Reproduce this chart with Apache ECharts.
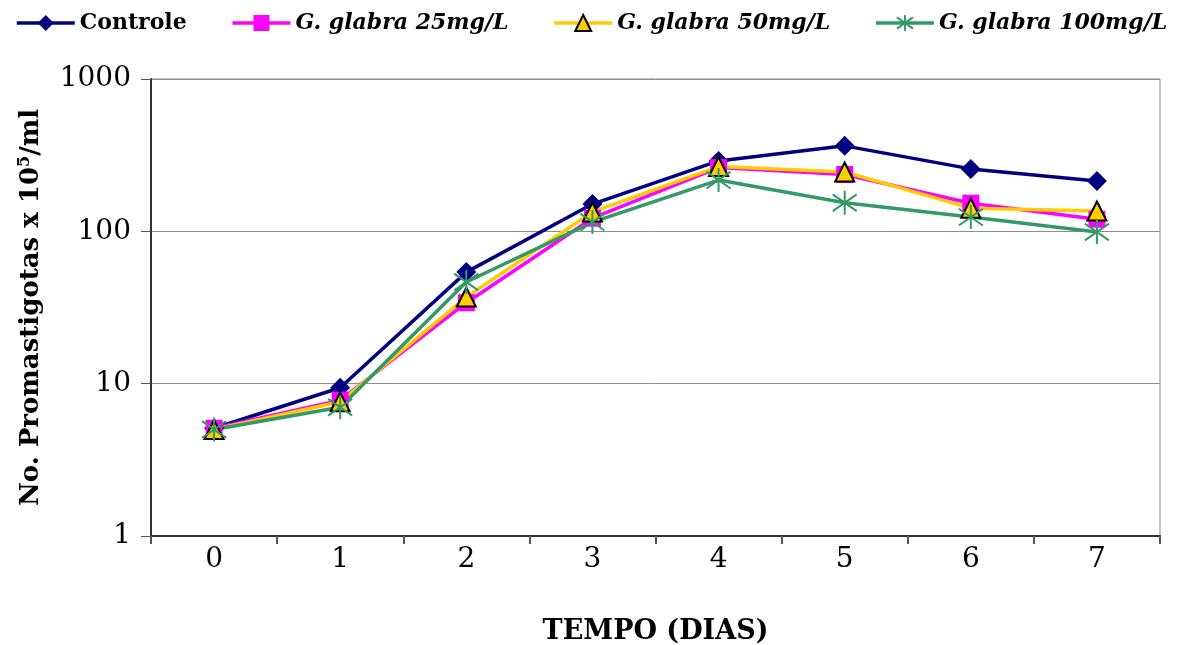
<!DOCTYPE html>
<html>
<head>
<meta charset="utf-8">
<script src="https://cdn.jsdelivr.net/npm/echarts@6/dist/echarts.min.js"></script>
<style>
    html, body { margin: 0; padding: 0; background: #fff; }
    #chart { width: 1179px; height: 645px; }
</style>
</head>
<body>
<div id="chart"></div>
<script>
// dias
var dias = ['0', '1', '2', '3', '4', '5', '6', '7'];
// series (No. promastigotas x 10^5/ml)
var controle = [5.1, 9.4, 54, 151, 290, 364, 257, 214];
var glabra25 = [5.1, 7.8, 34, 122, 262, 236, 153, 120];
var glabra50 = [5.0, 7.6, 37, 134, 266, 245, 142, 136];
var glabra100 = [5.0, 7.0, 46.5, 115, 217, 154, 124, 99];
var yTicks = [1, 10, 100, 1000];

var serif = '"DejaVu Serif", "Liberation Serif", serif';
// asterisco do Excel: vertical + duas diagonais
var starPath = 'path://M10,0 L10,20 M1.5,3 L18.5,17 M18.5,3 L1.5,17';

var chart = echarts.init(document.getElementById('chart'));

function serie(nome, dados, cor, simbolo, tam, estilo) {
    return {
        name: nome,
        type: 'line',
        data: dados,
        symbol: simbolo,
        symbolSize: tam,
        showAllSymbol: true,
        lineStyle: { color: cor, width: 3.5 },
        itemStyle: estilo,
        z: 2
    };
}

var option = {
    animation: false,
    legend: {
        top: 7,
        left: 10,
        itemGap: 44,
        itemWidth: 58,
        itemHeight: 20,
        lineStyle: { width: 3.5 },
        data: ['Controle', 'G. glabra 25mg/L', 'G. glabra 50mg/L', 'G. glabra 100mg/L'],
        formatter: function (name) {
            return name === 'Controle' ? '{b|' + name + '}' : '{i|' + name + '}';
        },
        textStyle: {
            rich: {
                b: { fontFamily: serif, fontWeight: 'bold', fontSize: 22, color: '#000' },
                i: { fontFamily: serif, fontWeight: 'bold', fontStyle: 'italic', fontSize: 22, color: '#000' }
            }
        }
    },
    grid: {
        left: 151,
        right: 19,
        top: 79,
        bottom: 109,
        outerBoundsMode: 'none',
        show: true,
        borderColor: '#8c8c8c',
        borderWidth: 1
    },
    xAxis: {
        type: 'category',
        data: dias,
        boundaryGap: true,
        name: 'TEMPO (DIAS)',
        nameLocation: 'middle',
        nameGap: 82,
        nameTextStyle: { fontFamily: serif, fontWeight: 'bold', fontSize: 27, color: '#000' },
        axisLine: { lineStyle: { color: '#333', width: 2 } },
        axisTick: { show: true, alignWithLabel: false, length: 8, lineStyle: { color: '#555', width: 2 } },
        axisLabel: { fontFamily: serif, fontSize: 28, color: '#000', margin: 10 },
        splitLine: { show: false }
    },
    yAxis: {
        type: 'log',
        logBase: 10,
        min: yTicks[0],
        max: yTicks[yTicks.length - 1],
        name: '{a|No. Promastigotas x 10}{s|5}{a|/ml}',
        nameLocation: 'middle',
        nameGap: 106,
        nameRotate: 90,
        nameTextStyle: {
            rich: {
                a: { fontFamily: serif, fontWeight: 'bold', fontSize: 26, color: '#000' },
                s: { fontFamily: serif, fontWeight: 'bold', fontSize: 16, color: '#000', verticalAlign: 'top', padding: [0, 0, 12, 0] }
            }
        },
        axisLine: { show: true, lineStyle: { color: '#333', width: 2 } },
        axisTick: { show: true, length: 10, lineStyle: { color: '#555', width: 1 } },
        axisLabel: {
            fontFamily: serif, fontSize: 28, color: '#000', margin: 20,
            formatter: function (v) { return String(v); }
        },
        splitLine: { show: true, lineStyle: { color: '#8c8c8c', width: 1 } }
    },
    series: [
        serie('Controle', controle, '#000080', 'diamond', 20,
            { color: '#000080', borderColor: '#000080', borderWidth: 0 }),
        serie('G. glabra 25mg/L', glabra25, '#ff00ff', 'rect', 17,
            { color: '#ff00ff', borderColor: '#ff00ff', borderWidth: 0 }),
        serie('G. glabra 50mg/L', glabra50, '#ffcc00', 'triangle', 19,
            { color: '#ffcc00', borderColor: '#000', borderWidth: 2 }),
        serie('G. glabra 100mg/L', glabra100, '#339966', starPath, 24,
            { color: 'rgba(0,0,0,0)', borderColor: '#339966', borderWidth: 2 })
    ]
};

chart.setOption(option);
</script>
</body>
</html>
